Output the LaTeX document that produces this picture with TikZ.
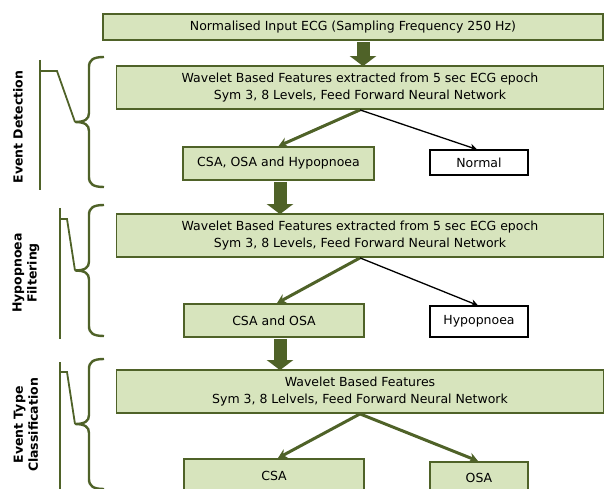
\documentclass[tikz,border=0pt]{standalone}
\usepackage{fontspec}
\setmainfont{DejaVu Sans}
\usetikzlibrary{arrows.meta}

\definecolor{olivedark}{HTML}{4F6228}
\definecolor{olivefill}{HTML}{D7E4BD}

\tikzset{
	stage/.style={draw=olivedark, line width=1.8pt, fill=olivefill, align=center, inner sep=0pt, font=\fontsize{12.5}{16.5}\selectfont},
	outcome/.style={draw=black, line width=1.1pt, fill=white, align=center, inner sep=0pt, font=\fontsize{12.5}{16.5}\selectfont},
	bigflow/.style={olivedark, line width=13pt, -{Triangle[length=10pt,width=26pt]}},
	greenflow/.style={olivedark, line width=3pt, -{Stealth[length=9pt,width=10pt]}},
	blackflow/.style={black, line width=1.3pt, -{Stealth[length=7pt,width=7pt]}},
	bracket/.style={olivedark, line width=2.4pt},
	sideline/.style={olivedark, line width=1.8pt},
	sidelabel/.style={rotate=90, align=center, font=\bfseries\fontsize{12.5}{15}\selectfont}
}

\begin{document}
\begin{tikzpicture}[x=1pt, y=-1pt]
	\useasboundingbox (0,0) rectangle (605,489);
	% processing stages
	\node[stage, minimum width=500pt, minimum height=26pt] (input) at (353,27) {Normalised Input ECG (Sampling Frequency 250 Hz)};
	\node[stage, minimum width=487pt, minimum height=43pt] (wbfA) at (360,87.5) {Wavelet Based Features extracted from 5 sec ECG epoch\\Sym 3, 8 Levels, Feed Forward Neural Network};
	\node[stage, minimum width=191pt, minimum height=33pt] (evtA) at (278.5,163.5) {CSA, OSA and Hypopnoea};
	\node[outcome, minimum width=98pt, minimum height=25pt] (normal) at (479,162.5) {Normal};
	\node[stage, minimum width=487pt, minimum height=43pt] (wbfB) at (360,235.5) {Wavelet Based Features extracted from 5 sec ECG epoch\\Sym 3, 8 Levels, Feed Forward Neural Network};
	\node[stage, minimum width=180pt, minimum height=33pt] (evtB) at (274,320.5) {CSA and OSA};
	\node[outcome, minimum width=98pt, minimum height=31pt] (hypo) at (479,321.5) {Hypopnoea};
	\node[stage, minimum width=487pt, minimum height=43pt] (wbfC) at (360,391.5) {Wavelet Based Features\\Sym 3, 8 Lelvels, Feed Forward Neural Network};
	\node[stage, minimum width=180pt, minimum height=44pt, anchor=north] (csa) at (274,458) {\raisebox{10pt}{CSA}};
	\node[stage, minimum width=98pt, minimum height=40pt, anchor=north] (osa) at (479,461) {\raisebox{8pt}{OSA}};

	% block arrows between stages
	\draw[bigflow] ([xshift=10pt,yshift=-1pt]input.south) -- ([xshift=10pt,yshift=-1pt]input.south |- wbfA.north);
	\draw[bigflow] ([xshift=1.5pt,yshift=-1pt]evtA.south) -- ([xshift=1.5pt,yshift=-1pt]evtA.south |- wbfB.north);
	\draw[bigflow] ([xshift=6pt,yshift=-1pt]evtB.south) -- ([xshift=6pt,yshift=-1pt]evtB.south |- wbfC.north);

	% classifier outputs
	\draw[greenflow] (wbfA.south) -- (evtA.north);
	\draw[blackflow] (wbfA.south) -- ([xshift=-2pt]normal.north);
	\draw[greenflow] (wbfB.south) -- ([xshift=3pt]evtB.north);
	\draw[blackflow] (wbfB.south) -- ([xshift=-1pt]hypo.north);
	\draw[greenflow] (wbfC.south) -- ([xshift=4pt]csa.north);
	\draw[greenflow] (wbfC.south) -- ([xshift=-1pt]osa.north);

	% stage brackets: top, bottom, rule x, step end x, step y
	\foreach \ytop/\ybot/\xr/\xs/\ys [evaluate=\ytop as \ymid using (\ytop+\ybot)/2] in {57/187/40/57/71, 205/336/60/67/219, 359/489/60/67/372} {
		\draw[bracket] (104,\ytop) .. controls (93,\ytop) and (89,\ytop+3) .. (89,\ytop+10) -- (89,\ymid-9)
			.. controls (89,\ymid-3) and (85,\ymid) .. (75,\ymid)
			.. controls (85,\ymid) and (89,\ymid+3) .. (89,\ymid+9) -- (89,\ybot-10)
			.. controls (89,\ybot-3) and (93,\ybot) .. (104,\ybot);
		\coordinate (tip) at (75,\ymid);
		\draw[sideline] (\xr,\ytop+3) -- (\xr,\ybot+3);
		\draw[sideline] (\xr,\ys) -- (\xs,\ys) -- (tip);
	}
	\node[sidelabel] (lblA) at (18,127) {Event Detection};
	\node[sidelabel] (lblB) at (26,273) {Hypopnoea\\Filtering};
	\node[sidelabel] (lblC) at (26,425) {Event Type\\Classification};
\end{tikzpicture}
\end{document}
